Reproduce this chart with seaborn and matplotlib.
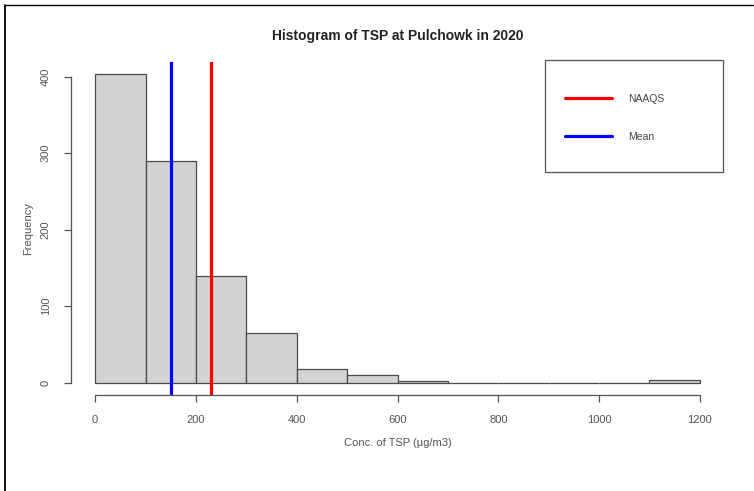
import numpy as np
import pandas as pd
import matplotlib
matplotlib.use("Agg")
import matplotlib.pyplot as plt
from matplotlib.lines import Line2D
from matplotlib.patches import Rectangle
import seaborn as sns

# ---- data ----
bin_edges = [0, 100, 200, 300, 400, 500, 600, 700, 800, 900, 1000, 1100, 1200]
counts = [403, 290, 140, 65, 18, 10, 2, 0, 0, 0, 0, 3]
mean_value = 151
naaqs_value = 230
x_ticks = [0, 200, 400, 600, 800, 1000, 1200]
y_ticks = [0, 100, 200, 300, 400]
title = "Histogram of TSP at Pulchowk in 2020"
xlabel = "Conc. of TSP (\u00b5g/m3)"
ylabel = "Frequency"

sns.set_theme(style="white")
plt.rcParams['font.family'] = ['Liberation Sans', 'DejaVu Sans']

centers = [(a + b) / 2 for a, b in zip(bin_edges[:-1], bin_edges[1:])]
df = pd.DataFrame({"conc": centers, "n": counts})

fig = plt.figure(figsize=(7.54, 4.91), dpi=100)
fig.patch.set_facecolor("white")
ax = fig.add_axes([71 / 754, 1 - 395 / 491, 653 / 754, 333 / 491])

sns.histplot(data=df, x="conc", weights="n", bins=bin_edges, ax=ax,
             color="#d3d3d3", edgecolor="#4a4a4a", linewidth=0.9, alpha=1.0)

ax.axvline(naaqs_value, color="#ff0000", lw=2.3, label="NAAQS")
ax.axvline(mean_value, color="#0000ff", lw=2.3, label="Mean")

ax.set_xlim(-48, 1248)
ax.set_ylim(-16.1, 419.2)

for s in ["top", "right"]:
    ax.spines[s].set_visible(False)
ax.spines["left"].set_bounds(0, 400)
ax.spines["bottom"].set_bounds(0, 1200)
for s in ["left", "bottom"]:
    ax.spines[s].set_color("#555555")
    ax.spines[s].set_linewidth(0.9)

ax.set_xticks(x_ticks)
ax.set_yticks(y_ticks)
ax.set_xticklabels([str(t) for t in x_ticks])
ax.set_yticklabels([str(t) for t in y_ticks], rotation=90, va="center")
ax.tick_params(axis="both", direction="out", length=5, width=0.9, color="#555555",
               labelsize=8, labelcolor="#555555", pad=9.6, left=True, bottom=True)

ax.set_xlabel(xlabel, fontsize=8, color="#555555", labelpad=9)
ax.set_ylabel(ylabel, fontsize=8, color="#555555", labelpad=5.7)
ax.set_title(title, fontsize=10, fontweight="bold", color="#222222", pad=16)

# legend box frame
fig.add_artist(Rectangle((545 / 754, 1 - 172 / 491), 178 / 754, 112 / 491,
                         transform=fig.transFigure, fill=False,
                         edgecolor="#555555", linewidth=0.9))
leg = ax.legend(loc="upper left", bbox_to_anchor=(565 / 754, 1 - 94 / 491),
                bbox_transform=fig.transFigure, borderaxespad=0, borderpad=0,
                fontsize=7.5, handlelength=4.5, handletextpad=1.53, labelspacing=2.65,
                frameon=False, labelcolor="#444444")
for h in leg.get_lines():
    h.set_linewidth(2.3)

# border of the image
fig.add_artist(Line2D([5 / 754, 753 / 754], [1 - 5 / 491, 1 - 5 / 491], transform=fig.transFigure, color="black", lw=1.0))
fig.add_artist(Line2D([5 / 754, 5 / 754], [1 - 5 / 491, 0], transform=fig.transFigure, color="black", lw=1.3))

fig.savefig("out.png", dpi=100)
